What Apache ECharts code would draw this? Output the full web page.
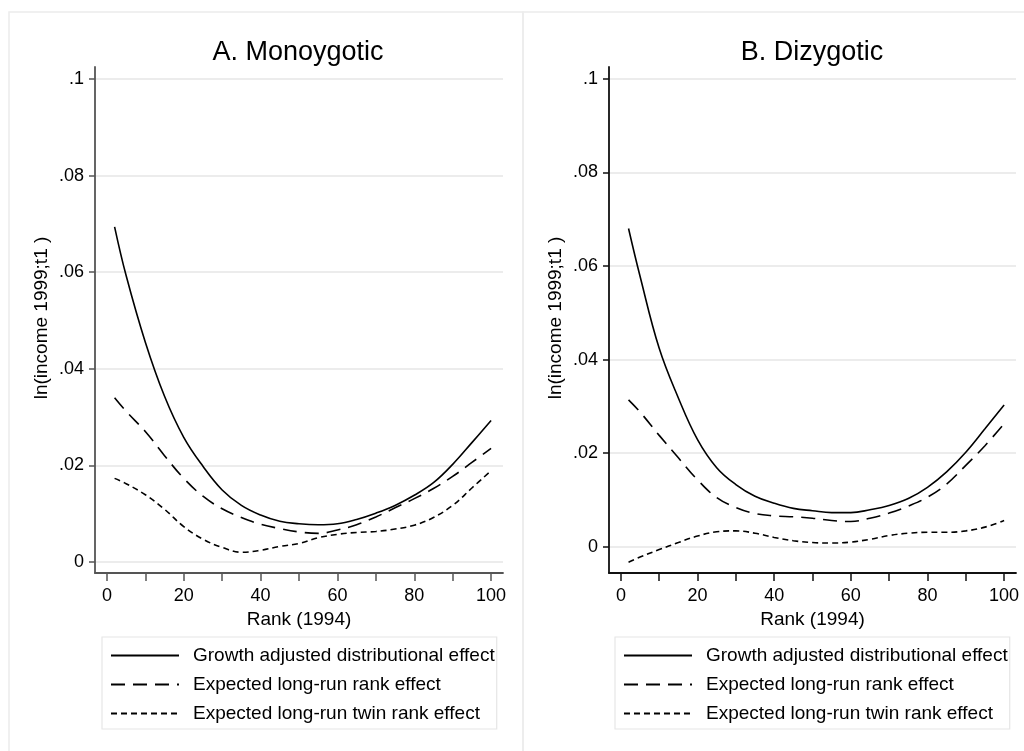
<!DOCTYPE html>
<html>
<head>
<meta charset="utf-8">
<script src="https://cdn.jsdelivr.net/npm/echarts@6/dist/echarts.min.js"></script>
<style>
html,body{margin:0;padding:0;background:#fff;}
#chart{width:1024px;height:751px;}
</style>
</head>
<body>
<div id="chart"></div>
<script>
// ---- Data ----
const xRank = [2, 5, 10, 15, 20, 25, 30, 35, 40, 45, 50, 55, 60, 65, 70, 75, 80, 85, 90, 95, 100];

// Panel A: Monozygotic
const monoGrowth = [0.0694, 0.0593, 0.0455, 0.0343, 0.0258, 0.0198, 0.0149, 0.0117, 0.0097, 0.0084, 0.0079, 0.0077, 0.0079, 0.0088, 0.0101, 0.0117, 0.0138, 0.0164, 0.0202, 0.0247, 0.0293];
const monoRank   = [0.0340, 0.0312, 0.0270, 0.0220, 0.0173, 0.0136, 0.0110, 0.0092, 0.0078, 0.0069, 0.0062, 0.0059, 0.0066, 0.0077, 0.0093, 0.0112, 0.0131, 0.0152, 0.0177, 0.0206, 0.0235];
const monoTwin   = [0.0173, 0.0162, 0.0139, 0.0109, 0.0073, 0.0047, 0.0030, 0.0020, 0.0024, 0.0032, 0.0038, 0.0050, 0.0057, 0.0061, 0.0063, 0.0068, 0.0076, 0.0092, 0.0117, 0.0153, 0.0189];

// Panel B: Dizygotic
const diGrowth = [0.0680, 0.0578, 0.0424, 0.0318, 0.0229, 0.0169, 0.0133, 0.0108, 0.0093, 0.0082, 0.0077, 0.0073, 0.0073, 0.0079, 0.0088, 0.0103, 0.0127, 0.0160, 0.0202, 0.0252, 0.0303];
const diRank   = [0.0314, 0.0288, 0.0238, 0.0190, 0.0143, 0.0105, 0.0084, 0.0071, 0.0066, 0.0064, 0.0061, 0.0056, 0.0054, 0.0061, 0.0072, 0.0087, 0.0106, 0.0134, 0.0174, 0.0216, 0.0263];
const diTwin   = [-0.0033, -0.0022, -0.0006, 0.0009, 0.0023, 0.0032, 0.0034, 0.0029, 0.0020, 0.0013, 0.0009, 0.0008, 0.0010, 0.0016, 0.0024, 0.0029, 0.0031, 0.0031, 0.0034, 0.0042, 0.0056];

const seriesNames = ['Growth adjusted distributional effect', 'Expected long-run rank effect', 'Expected long-run twin rank effect'];
const panelTitles = ['A. Monoygotic', 'B. Dizygotic'];
const xAxisTitle = 'Rank (1994)';
const yAxisTitle = 'ln(income 1999;t1 )';

const xTickValues = [0, 10, 20, 30, 40, 50, 60, 70, 80, 90, 100];
const xLabelValues = [0, 20, 40, 60, 80, 100];
const yTickValues = [0, 0.02, 0.04, 0.06, 0.08, 0.1];
const yTickLabels = ['0', '.02', '.04', '.06', '.08', '.1'];

// ---- Chart ----
const FONT = '"Liberation Sans", Arial, Helvetica, sans-serif';
const chart = echarts.init(document.getElementById('chart'), null, {renderer: 'canvas'});

function pairs(arr) { return xRank.map((x, i) => [x, arr[i]]); }
function yLabel(v) {
  for (let i = 0; i < yTickValues.length; i++) {
    if (Math.abs(v - yTickValues[i]) < 1e-9) return yTickLabels[i];
  }
  return '';
}

const styles = [
  {type: 'solid', width: 1.6},
  {type: [14, 8], width: 1.6},
  {type: [6, 4], width: 1.6}
];

function makeXAxis(gridIndex, axisColor) {
  return {
    type: 'value', gridIndex: gridIndex,
    min: -3.1, max: 103.1,
    name: xAxisTitle, nameLocation: 'middle', nameGap: 34,
    nameTextStyle: {fontFamily: FONT, fontSize: 19, color: '#000'},
    axisLine: {show: true, onZero: false, lineStyle: {color: axisColor, width: 1.8}},
    axisTick: {show: true, length: 8, customValues: xTickValues, lineStyle: {color: axisColor, width: 1.5}},
    axisLabel: {customValues: xLabelValues, margin: 14, fontFamily: FONT, fontSize: 18, color: '#000'},
    splitLine: {show: false}
  };
}
function makeYAxis(gridIndex, min, axisColor) {
  return {
    type: 'value', gridIndex: gridIndex,
    min: min, max: 0.1025,
    axisLine: {show: true, onZero: false, lineStyle: {color: axisColor, width: 1.8}},
    axisTick: {show: true, length: 6, customValues: yTickValues, lineStyle: {color: axisColor, width: 1.5}},
    axisLabel: {customValues: yTickValues, margin: 11, fontFamily: FONT, fontSize: 18, color: '#000', formatter: yLabel},
    splitLine: {show: true, lineStyle: {color: '#e6e6e6', width: 1.5}}
  };
}

const panelData = [[monoGrowth, monoRank, monoTwin], [diGrowth, diRank, diTwin]];
const series = [];
panelData.forEach((set, p) => {
  set.forEach((arr, k) => {
    series.push({
      name: seriesNames[k], type: 'line',
      xAxisIndex: p, yAxisIndex: p,
      data: pairs(arr), smooth: 0.4,
      symbol: 'none', showSymbol: false,
      lineStyle: {color: '#000', width: styles[k].width, type: styles[k].type},
      itemStyle: {color: '#000'},
      silent: true, animation: false, z: 3
    });
  });
});

function makeLegend(left) {
  return {
    show: true, orient: 'vertical', left: left, top: 637,
    data: seriesNames,
    itemWidth: 68, itemHeight: 20, itemGap: 10,
    padding: [9, 2, 6, 8],
    borderColor: '#e6e6e6', borderWidth: 1.2,
    selectedMode: false,
    itemStyle: {opacity: 0, borderWidth: 0},
    textStyle: {fontFamily: FONT, fontSize: 19, color: '#000', padding: [0, 0, 0, 9]}
  };
}

const option = {
  backgroundColor: '#fff',
  animation: false,
  title: [
    {text: panelTitles[0], left: 293, top: 34, textAlign: 'center',
     textStyle: {fontFamily: FONT, fontSize: 27, fontWeight: 'normal', color: '#000'}},
    {text: panelTitles[1], left: 807, top: 34, textAlign: 'center',
     textStyle: {fontFamily: FONT, fontSize: 27, fontWeight: 'normal', color: '#000'}}
  ],
  legend: [makeLegend(102), makeLegend(615)],
  grid: [
    {left: 95, top: 67, width: 408, height: 506, containLabel: false},
    {left: 609, top: 67, width: 407, height: 506, containLabel: false}
  ],
  xAxis: [makeXAxis(0, '#555'), makeXAxis(1, '#111')],
  yAxis: [makeYAxis(0, -0.0023, '#555'), makeYAxis(1, -0.0056, '#111')],
  series: series,
  graphic: [
    {type: 'rect', shape: {x: 9, y: 12, width: 514, height: 760}, style: {fill: 'none', stroke: '#ececec', lineWidth: 1.5}, silent: true, z: 0},
    {type: 'rect', shape: {x: 523, y: 12, width: 520, height: 760}, style: {fill: 'none', stroke: '#ececec', lineWidth: 1.5}, silent: true, z: 0},
    {type: 'text', x: 42, y: 318, rotation: Math.PI / 2,
     style: {text: yAxisTitle, fontFamily: FONT, fontSize: 19, fill: '#000', textAlign: 'center', textVerticalAlign: 'middle'}, silent: true},
    {type: 'text', x: 556, y: 318, rotation: Math.PI / 2,
     style: {text: yAxisTitle, fontFamily: FONT, fontSize: 19, fill: '#000', textAlign: 'center', textVerticalAlign: 'middle'}, silent: true}
  ]
};
chart.setOption(option);
</script>
</body>
</html>
